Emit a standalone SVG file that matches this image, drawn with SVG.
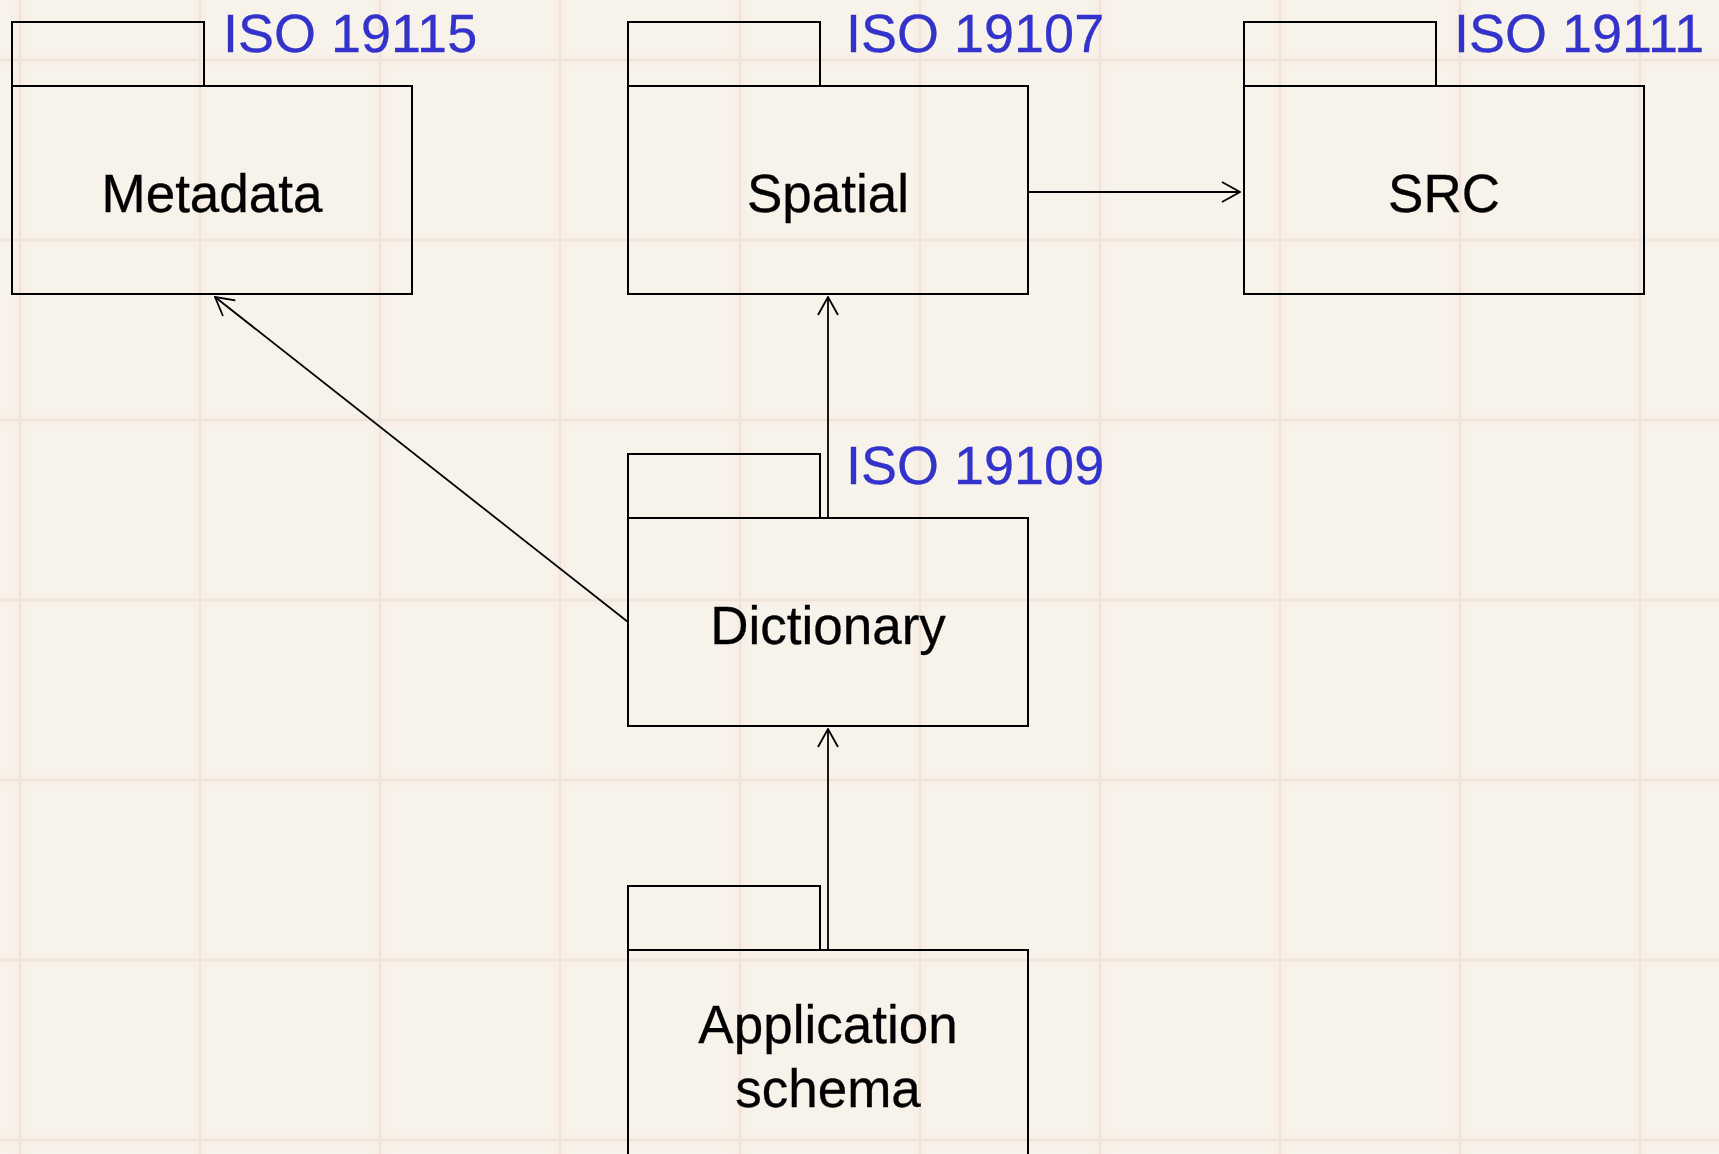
<svg xmlns="http://www.w3.org/2000/svg" width="1719" height="1154" viewBox="0 0 1719 1154">
  <defs>
    <style>
      .bg { fill: #F7F3EA; }
      .band { stroke: #F9EFE6; stroke-width: 12; fill: none; }
      .grid { stroke: #EDE4DA; stroke-width: 2.5; fill: none; }
      .pkg { fill: none; stroke: #000; stroke-width: 2; }
      .name { font-family: "Liberation Sans", Arial, sans-serif; font-size: 53px; fill: #000; text-anchor: middle; stroke: #000; stroke-width: 0.3; }
      .iso { font-family: "Liberation Sans", Arial, sans-serif; font-size: 54px; fill: #3333CC; stroke: #3333CC; stroke-width: 0.3; }
      .conn { stroke: #000; stroke-width: 1.8; fill: none; }
    </style>
    <marker id="open" viewBox="0 0 20 24" refX="19" refY="12" markerWidth="20" markerHeight="24" markerUnits="userSpaceOnUse" orient="auto">
      <path d="M1,2 L19,12 L1,22" fill="none" stroke="#000" stroke-width="1.8"/>
    </marker>
  </defs>
  <rect class="bg" x="0" y="0" width="1719" height="1154"/>
  <g id="grid">
    <g class="band">
      <path d="M20,0V1154M200,0V1154M380,0V1154M560,0V1154M740,0V1154M920,0V1154M1100,0V1154M1280,0V1154M1460,0V1154M1640,0V1154"/>
      <path d="M0,60H1719M0,240H1719M0,420H1719M0,600H1719M0,780H1719M0,960H1719M0,1140H1719"/>
    </g>
    <g class="grid">
      <path d="M20,0V1154M200,0V1154M380,0V1154M560,0V1154M740,0V1154M920,0V1154M1100,0V1154M1280,0V1154M1460,0V1154M1640,0V1154"/>
      <path d="M0,60H1719M0,240H1719M0,420H1719M0,600H1719M0,780H1719M0,960H1719M0,1140H1719"/>
    </g>
  </g>
  <g id="connectors">
    <line class="conn" x1="1028" y1="192" x2="1240" y2="192" marker-end="url(#open)"/>
    <line class="conn" x1="828" y1="518" x2="828" y2="297" marker-end="url(#open)"/>
    <line class="conn" x1="828" y1="950" x2="828" y2="729" marker-end="url(#open)"/>
    <line class="conn" x1="628" y1="622" x2="215" y2="297" marker-end="url(#open)"/>
  </g>
  <g id="metadata">
    <rect class="pkg" x="12" y="22" width="192" height="64"/>
    <rect class="pkg" x="12" y="86" width="400" height="208"/>
    <text class="name" x="212" y="212">Metadata</text>
    <text class="iso" x="223" y="52">ISO 19115</text>
  </g>
  <g id="spatial">
    <rect class="pkg" x="628" y="22" width="192" height="64"/>
    <rect class="pkg" x="628" y="86" width="400" height="208"/>
    <text class="name" x="828" y="212">Spatial</text>
    <text class="iso" x="846" y="52">ISO 19107</text>
  </g>
  <g id="src">
    <rect class="pkg" x="1244" y="22" width="192" height="64"/>
    <rect class="pkg" x="1244" y="86" width="400" height="208"/>
    <text class="name" x="1444" y="212">SRC</text>
    <text class="iso" x="1454" y="52">ISO 19111</text>
  </g>
  <g id="dictionary">
    <rect class="pkg" x="628" y="454" width="192" height="64"/>
    <rect class="pkg" x="628" y="518" width="400" height="208"/>
    <text class="name" x="828" y="644">Dictionary</text>
    <text class="iso" x="846" y="484">ISO 19109</text>
  </g>
  <g id="application-schema">
    <rect class="pkg" x="628" y="886" width="192" height="64"/>
    <rect class="pkg" x="628" y="950" width="400" height="208"/>
    <text class="name" x="828" y="1043">Application</text>
    <text class="name" x="828" y="1107">schema</text>
  </g>
</svg>
